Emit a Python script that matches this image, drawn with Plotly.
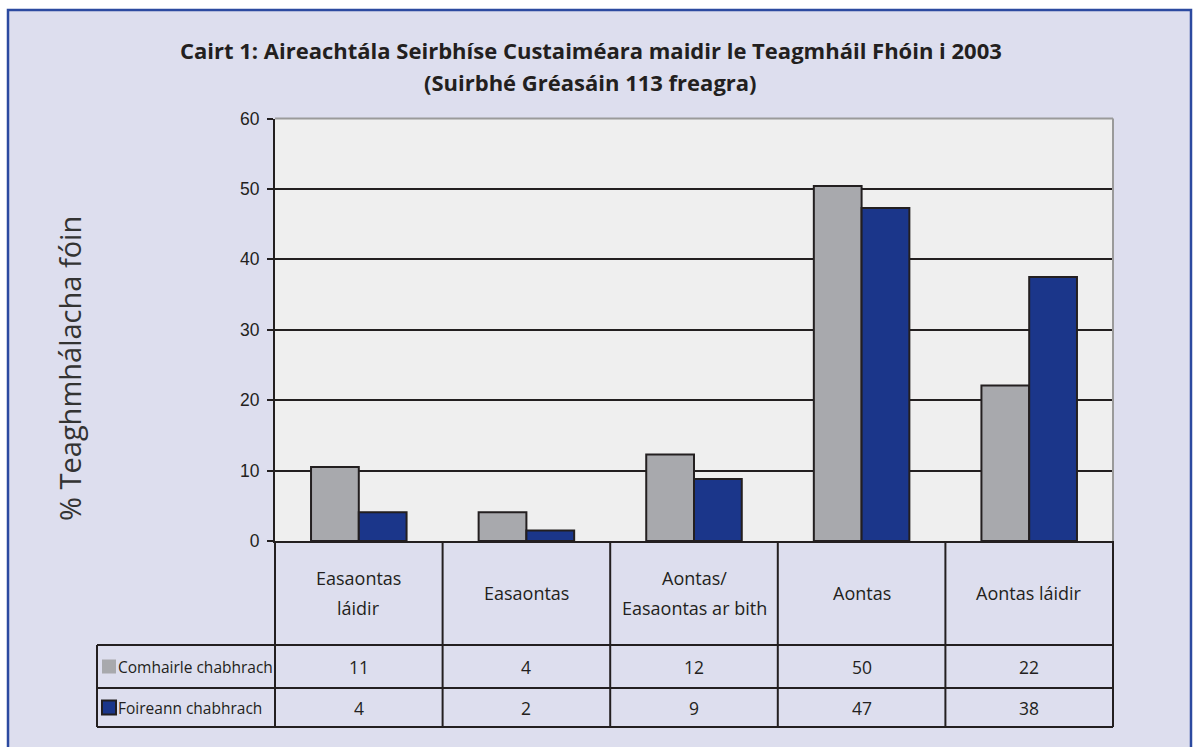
import plotly.graph_objects as go

# ---- data ----
categories = ["Easaontas láidir", "Easaontas", "Aontas/ Easaontas ar bith", "Aontas", "Aontas láidir"]
table_categories = [["Easaontas", "láidir"], ["Easaontas"], ["Aontas/", "Easaontas ar bith"],
                    ["Aontas"], ["Aontas láidir"]]
series_names = ["Comhairle chabhrach", "Foireann chabhrach"]
comhairle = [10.5, 4.1, 12.3, 50.4, 22.1]
foireann = [4.1, 1.5, 8.8, 47.3, 37.5]
comhairle_table = ["11", "4", "12", "50", "22"]
foireann_table = ["4", "2", "9", "47", "38"]
y_ticks = [0, 10, 20, 30, 40, 50, 60]
title_lines = ["Cairt 1: Aireachtála Seirbhíse Custaiméara maidir le Teagmháil Fhóin i 2003",
               "(Suirbhé Gréasáin 113 freagra)"]
y_title = "% Teaghmhálacha fóin"

W, H = 1194, 747
_BG = "#dddeee"
_PLOT = "#efefef"
_INK = "#231f20"
_GREY = "#a8a9ad"
_BLUE = "#1b368a"
_FRAME = "#2c4aa0"
_FONT = "Open Sans"


def px_x(p):
    return p / W


def px_y(p):
    return (H - p) / H


# table geometry (pixels) and category width in x-units
plot_l, plot_r, plot_t, zero_y = 275, 1113, 118.5, 541
cat_w = (plot_r - plot_l) / len(categories)
leg_l = 97
row_lines = [0, -104, -147, -186]


def cx(p):
    """pixel x -> table x-units (category index)"""
    return -0.5 + (p - plot_l) / cat_w


fig = go.Figure()

colors = [_GREY, _BLUE]
for name, vals, col in zip(series_names, [comhairle, foireann], colors):
    fig.add_trace(go.Bar(
        x=categories, y=vals, name=name,
        marker=dict(color=col, line=dict(color=_INK, width=2)),
        xaxis="x", yaxis="y", showlegend=False,
    ))

# legend swatches in table
for i, col in enumerate(colors):
    fig.add_trace(go.Scatter(
        x=[cx(109)], y=[(row_lines[i + 1] + row_lines[i + 2]) / 2],
        mode="markers", xaxis="x2", yaxis="y2", showlegend=False,
        marker=dict(symbol="square", size=14, color=col,
                    line=dict(color=_INK if i == 1 else col, width=2 if i == 1 else 0)),
        hoverinfo="skip",
    ))

shapes = [
    # outer frame (bottom edge runs off the page)
    dict(type="rect", xref="paper", yref="paper", x0=px_x(8), x1=px_x(1191),
         y0=-0.01, y1=px_y(10), line=dict(color=_FRAME, width=2.5),
         fillcolor=_BG, layer="below"),
    # plot area background
    dict(type="rect", xref="x domain", yref="y domain", x0=0, x1=1, y0=0, y1=1,
         line=dict(width=0), fillcolor=_PLOT, layer="below"),
    # grey top/right edges
    dict(type="line", xref="x domain", yref="y domain", x0=0, x1=1, y0=1, y1=1,
         line=dict(color="#9a9a9a", width=2)),
    dict(type="line", xref="x domain", yref="y domain", x0=1, x1=1, y0=0, y1=1,
         line=dict(color="#9a9a9a", width=2)),
]

# table lines
x_left = cx(leg_l)
for k in range(len(categories) + 1):
    shapes.append(dict(type="line", xref="x2", yref="y2", x0=k - 0.5, x1=k - 0.5,
                       y0=row_lines[0], y1=row_lines[-1],
                       line=dict(color=_INK, width=2)))
shapes.append(dict(type="line", xref="x2", yref="y2", x0=x_left, x1=x_left,
                   y0=row_lines[1], y1=row_lines[-1], line=dict(color=_INK, width=2)))
for r in row_lines[1:]:
    shapes.append(dict(type="line", xref="x2", yref="y2", x0=x_left, x1=len(categories) - 0.5,
                       y0=r, y1=r, line=dict(color=_INK, width=2)))

annotations = []
for line, ypx in zip(title_lines, [50, 82]):
    annotations.append(dict(text=line, xref="paper", yref="paper", x=px_x(590.5), y=px_y(ypx),
                            showarrow=False, xanchor="center", yanchor="middle",
                            font=dict(family=_FONT, size=22, color=_INK, weight="bold")))
annotations.append(dict(text=y_title, xref="paper", yref="paper",
                        x=px_x(69), y=px_y(369), textangle=-90, showarrow=False,
                        font=dict(family=_FONT, size=29, color="#333333"),
                        xanchor="center", yanchor="middle"))

line_gap = 30
cat_mid = (row_lines[0] + row_lines[1]) / 2
for i, lines in enumerate(table_categories):
    n = len(lines)
    for j, txt in enumerate(lines):
        annotations.append(dict(text=txt, xref="x2", yref="y2", x=i,
                                y=cat_mid + ((n - 1) / 2 - j) * line_gap, showarrow=False,
                                font=dict(family=_FONT, size=18, color=_INK),
                                xanchor="center", yanchor="middle"))
for r, vals in enumerate([comhairle_table, foireann_table]):
    ymid = (row_lines[r + 1] + row_lines[r + 2]) / 2
    for i, v in enumerate(vals):
        annotations.append(dict(text=v, xref="x2", yref="y2", x=i, y=ymid, showarrow=False,
                                font=dict(family=_FONT, size=17.5, color=_INK),
                                xanchor="center", yanchor="middle"))
    annotations.append(dict(text=series_names[r], xref="x2", yref="y2", x=cx(116), y=ymid,
                            showarrow=False, font=dict(family=_FONT, size=15.5, color=_INK),
                            xanchor="left", yanchor="middle"))

fig.update_layout(
    width=W, height=H,
    margin=dict(l=0, r=0, t=0, b=0, pad=0, autoexpand=False),
    paper_bgcolor="white", plot_bgcolor="rgba(0,0,0,0)",
    barmode="group", bargap=0.43, bargroupgap=0,
    xaxis=dict(domain=[px_x(plot_l), px_x(plot_r)], anchor="y",
               showticklabels=False, ticks="", showgrid=False,
               showline=True, linecolor=_INK, linewidth=2),
    yaxis=dict(domain=[px_y(zero_y), px_y(plot_t)], anchor="x", range=[0, 60],
               tickvals=y_ticks, ticks="outside", ticklen=6, tickwidth=2, tickcolor=_INK,
               ticklabelstandoff=4,
               showline=True, linecolor=_INK, linewidth=2,
               showgrid=True, gridcolor=_INK, gridwidth=2, zeroline=False,
               tickfont=dict(family="Liberation Sans", size=17.5, color=_INK)),
    xaxis2=dict(domain=[px_x(leg_l - 2), px_x(plot_r + 2)], anchor="y2",
                range=[cx(leg_l - 2), cx(plot_r + 2)], visible=False),
    yaxis2=dict(domain=[px_y(zero_y + 188), px_y(zero_y - 2)], anchor="x2",
                range=[-188, 2], visible=False),
    shapes=shapes,
    annotations=annotations,
)

fig.write_html("out.html", config={"displayModeBar": False},
               post_script="document.body.style.margin='0';"
                           "document.body.style.overflow='hidden';")
